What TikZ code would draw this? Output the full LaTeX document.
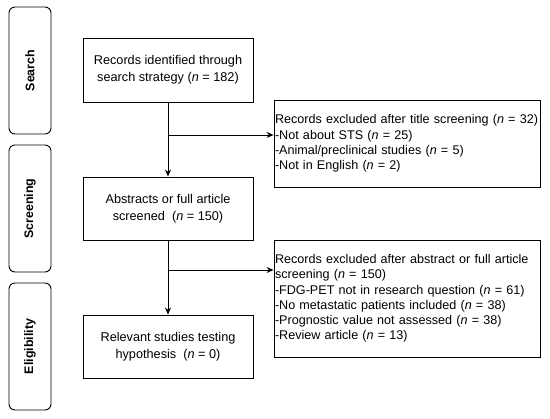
\documentclass[tikz,border=0pt]{standalone}
\usepackage{fontspec}
\setmainfont{Liberation Sans}
\usetikzlibrary{arrows.meta}

\tikzset{
  phase/.style={draw, rounded corners=6pt, minimum width=42pt, minimum height=127pt, line width=0.9pt, inner sep=0pt},
  stepbox/.style={draw, minimum width=170pt, minimum height=63pt, align=center, line width=0.9pt, inner sep=0pt, font=\fontsize{12.7}{17}\selectfont},
  exclbox/.style={draw, minimum width=266pt, text width=264pt, align=left, line width=0.9pt, inner xsep=1pt, inner ysep=2pt, font=\fontsize{12.6}{15.2}\selectfont},
  flow/.style={line width=0.9pt, -{Stealth[length=7pt,width=6pt]}}
}

\begin{document}
\begin{tikzpicture}[x=1pt,y=-1pt]

\useasboundingbox (0,0) rectangle (550,419);

\node[phase] (ph_search) at (30,70.5) {};
\node[rotate=90, font=\fontsize{12.4}{14}\selectfont\bfseries] at (ph_search) {Search};

\node[phase] (ph_screen) at (30,208.5) {};
\node[rotate=90, font=\fontsize{12.4}{14}\selectfont\bfseries] at (ph_screen) {Screening};

\node[phase] (ph_elig) at (30,346.5) {};
\node[rotate=90, font=\fontsize{12.4}{14}\selectfont\bfseries] at (ph_elig) {Eligibility};

\node[stepbox, minimum height=64pt] (rec_id) at (168,70) {Records identified through\\search strategy (\textit{n} = 182)};
\node[stepbox] (abs_scr) at (168,208.5) {Abstracts or full article\\screened\ \ (\textit{n} = 150)};
\node[stepbox] (rel_stud) at (168,346.5) {Relevant studies testing\\hypothesis\ \ (\textit{n} = 0)};

\node[exclbox, minimum height=87pt] (exc_title) at (407,143.5) {Records excluded after title screening (\textit{n}~=~32)\\
-Not about STS (\textit{n} = 25)\\
-Animal/preclinical studies (\textit{n} = 5)\\
-Not in English (\textit{n} = 2)};

\node[exclbox, minimum height=117pt] (exc_abs) at (407,298.5) {Records excluded after abstract or full article\\screening (\textit{n} = 150)\\
-FDG-PET not in research question (\textit{n} = 61)\\
-No metastatic patients included (\textit{n} = 38)\\
-Prognostic value not assessed (\textit{n} = 38)\\
-Review article (\textit{n} = 13)};

\coordinate (br_1) at (168,135);
\coordinate (br_2) at (168,270);

\draw[flow] (rec_id) -- (abs_scr);
\draw[flow] (br_1) -- (br_1 -| exc_title.west);
\draw[flow] (abs_scr) -- (rel_stud);
\draw[flow] (br_2) -- (br_2 -| exc_abs.west);

\end{tikzpicture}
\end{document}
